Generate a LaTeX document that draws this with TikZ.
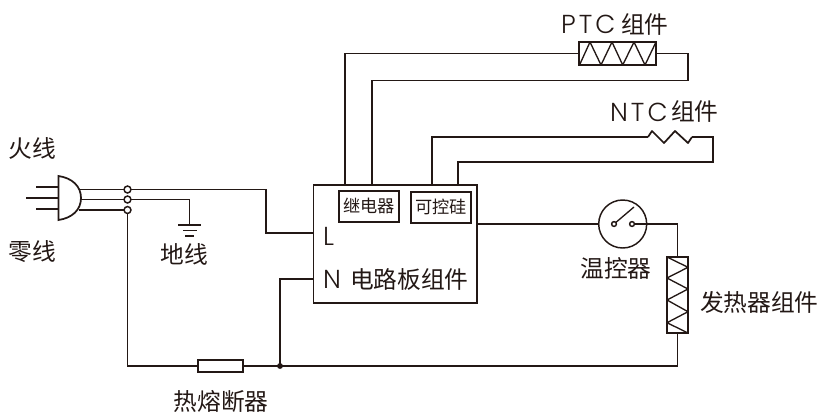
\documentclass[tikz,border=0pt]{standalone}
\usepackage{fontspec}
\setmainfont{Noto Sans CJK SC}
\newfontfamily\latinf[LetterSpace=12]{Poppins Light}
\definecolor{ink}{HTML}{231815}
\tikzset{
  pxbox/.style n args={2}{minimum width=#1*0.75pt,minimum height=#2*0.75pt},
  wire/.style={draw=ink,line width=1.3pt,line join=miter},
  thin wire/.style={draw=ink,line width=1pt,line join=round},
  part/.style={draw=ink,line width=1.4pt,fill=white,inner sep=0pt,outer sep=0pt},
  ring/.style={draw=ink,line width=1.1pt,fill=white,circle,inner sep=0pt,outer sep=0pt,minimum size=5.2pt},
  label/.style={inner sep=0pt,outer sep=0pt,text=ink,font=\fontsize{17.8}{20}\selectfont},
  small label/.style={label,font=\fontsize{12.9}{15}\selectfont},
  latin label/.style={label,font=\fontsize{19.5}{20}\selectfont\latinf},
}
\begin{document}
\begin{tikzpicture}[x=0.75pt,y=-0.75pt]
\useasboundingbox (0,0) rectangle (820,412);
% parts
\node[part,pxbox={163.5}{118}] (board) at (395.25,244) {};
\node[part,pxbox={60}{31}] (relay) at (369,206.5) {};
\node[part,pxbox={60}{31}] (scr) at (441,207.5) {};
\node[part,pxbox={77}{23}] (ptc) at (617.5,53.5) {};
\node[part,pxbox={21}{76}] (heater) at (677.5,295) {};
\node[part,pxbox={45}{12},line width=1.2pt] (fuse) at (220.5,366) {};
\node[circle,draw=ink,line width=1.1pt,inner sep=0pt,outer sep=0pt,minimum size=36pt] (stat) at (622.7,224) {};
% named points
\coordinate (live) at (79.5,189.5);
\coordinate (earth) at (81,199.5);
\coordinate (neutral) at (79,210);
\node[ring] (o1) at (127.5,189.5) {};
\node[ring] (o2) at (127.5,199.5) {};
\node[ring] (o3) at (127.5,210) {};
\coordinate (gnd) at (189.5,225);
\coordinate (nj) at (280,366);
\coordinate (ntcl) at (648,137);
\coordinate (ntcr) at (692,137);
\node[ring,minimum size=3.6pt] (c1) at (614,224) {};
\node[ring,minimum size=3.6pt] (c2) at (632,224) {};
\coordinate (leverend) at (634,207);
% plug
\draw[wire] (58.5,176) -- (58.5,220) .. controls (72,218) and (81,210) .. (81,198) .. controls (81,186) and (72,178) .. (58.5,176) -- cycle;
\draw[thin wire] (36,187) -- (58.5,187) (26,198) -- (58.5,198) (36,209) -- (58.5,209);
% mains wiring
\draw[wire] (live) -- (o1);
\draw[wire] (earth) -- (o2);
\draw[wire] (neutral) -- (o3);
\draw[wire] (o1) -- (266,189.5) |- (board.west |- 0,233);
\draw[wire] (o2) -| (gnd);
\draw[wire] (178,225) -- (201,225) (183,230.5) -- (197,230.5) (185,236) -- (194,236);
\draw[wire] (o3) |- (fuse);
\draw[wire] (fuse) -- (nj);
\draw[wire] (nj) |- (board.west |- 0,279);
\fill[ink] (nj) circle (2.2pt);
\draw[wire] (nj) -| (heater);
% PTC loop
\draw[wire] (board.north -| 345,0) |- (ptc);
\draw[wire] (ptc) -| (688,80.5) -| (board.north -| 372,0);
\draw[thin wire] (579.5,65) -- (590,42) -- (601,65) -- (612,42) -- (622.7,65) -- (634,42) -- (645,65) -- (656,42);
% NTC loop
\draw[wire] (board.north -| 432,0) |- (ntcl);
\draw[wire,line join=round] (ntcl) -- (652,131) -- (664,143) -- (675,131) -- (688,143) -- (ntcr);
\draw[wire] (ntcr) -| (713,162) -| (board.north -| 458,0);
% thermostat and heater
\draw[wire] (board.east |- stat) -- (stat);
\draw[wire] (c2) -| (heater);
\draw[thin wire] (c1) -- (leverend);
\draw[thin wire] (667,257) -- (688,267.3) -- (667,278) -- (688,289) -- (667,300) -- (688,311.7) -- (667,322.7) -- (688,333);
% labels
\node[label] (t1) at (32,148) {火线};
\node[label] (t2) at (32,252) {零线};
\node[label] (t3) at (184,254) {地线};
\node[label] (t4) at (221,401) {热熔断器};
\node[small label] (t5) at (369,206) {继电器};
\node[small label] (t6) at (441,207) {可控硅};
\node[latin label,anchor=west] (t7) at (323,236) {L};
\node[latin label,anchor=west] (t8) at (323,279) {N};
\node[label,anchor=west] (t9) at (350,279) {电路板组件};
\node[label] (t10) at (616,268) {温控器};
\node[label,anchor=west] (t11) at (700,302) {发热器组件};
\node[latin label,anchor=west] (t12) at (561,24) {PTC};
\node[label,anchor=west] (t13) at (621,24) {组件};
\node[latin label,anchor=west] (t14) at (610,112) {NTC};
\node[label,anchor=west] (t15) at (671,111) {组件};
\end{tikzpicture}
\end{document}
